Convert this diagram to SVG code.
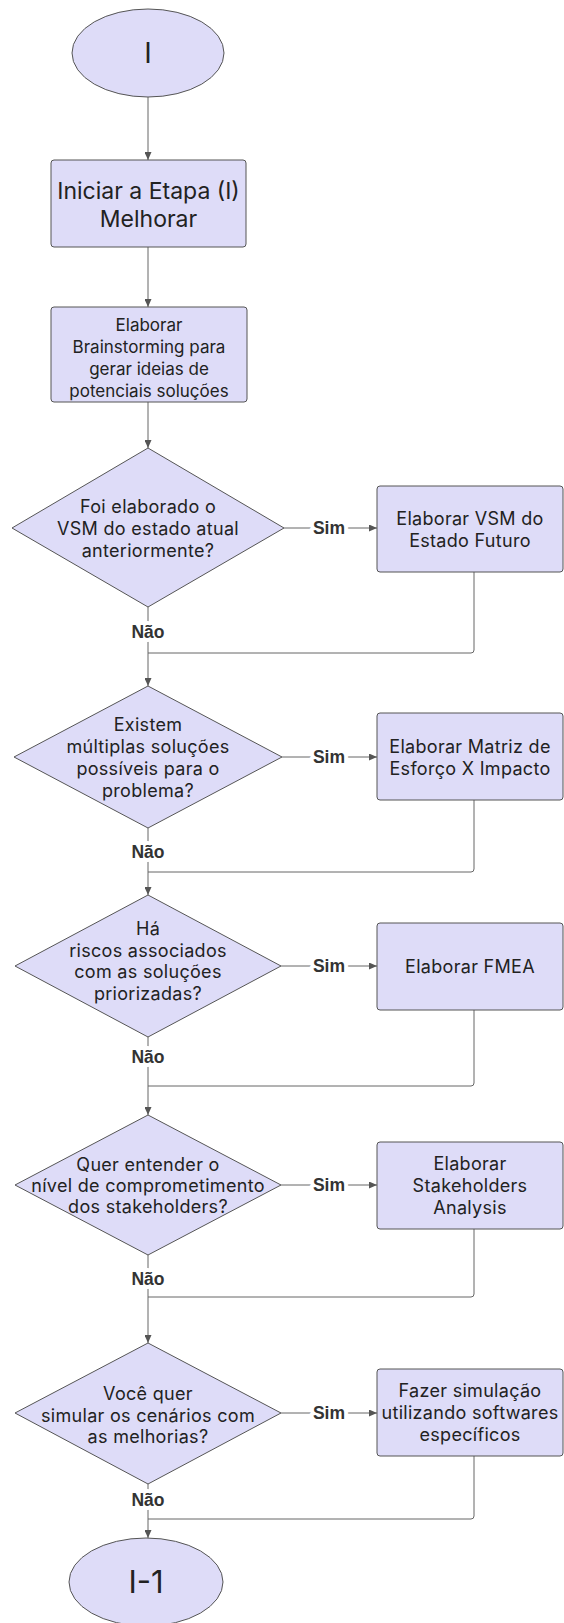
<svg xmlns="http://www.w3.org/2000/svg" width="564" height="1623" viewBox="0 0 564 1623">
  <defs>
    <style>
      .shape { fill: #dedcf8; stroke: #555; stroke-width: 1; }
      .txt { font-family: Inter, "Noto Sans", "DejaVu Sans", sans-serif; fill: #222; text-anchor: middle; }
      .t17 { font-size: 17px; }
      .t18 { font-size: 18px; letter-spacing: 0.3px; }
      .t23 { font-size: 23px; }
      .big { font-size: 28px; }
      .wire { fill: none; stroke: #666; stroke-width: 1; }
      .lbl { font-family: "Liberation Sans", Arial, sans-serif; font-weight: bold; font-size: 17.5px; fill: #333; text-anchor: middle; stroke: #fff; stroke-width: 8px; paint-order: stroke; stroke-linejoin: round; }
    </style>
    <marker id="arrow" markerUnits="userSpaceOnUse" markerWidth="8" markerHeight="7" refX="8" refY="3.5" orient="auto">
      <path d="M0,0 L8,3.5 L0,7 Z" fill="#555"/>
    </marker>
  </defs>

  <rect width="564" height="1623" fill="#fff"/>

  <!-- connectors -->
  <g id="connectors">
    <path class="wire" d="M148,97 V160" marker-end="url(#arrow)"/>
    <path class="wire" d="M148,247 V307" marker-end="url(#arrow)"/>
    <path class="wire" d="M148,402 V448" marker-end="url(#arrow)"/>

    <!-- decision 1 -->
    <path class="wire" d="M284,528 H377" marker-end="url(#arrow)"/>
    <path class="wire" d="M148,607 V686" marker-end="url(#arrow)"/>
    <path class="wire" d="M474,572 V650 Q474,653 471,653 H148"/>
    <text class="lbl" x="329" y="534">Sim</text>
    <text class="lbl" x="148" y="638">Não</text>

    <!-- decision 2 -->
    <path class="wire" d="M282,757 H377" marker-end="url(#arrow)"/>
    <path class="wire" d="M148,828 V895" marker-end="url(#arrow)"/>
    <path class="wire" d="M474,800 V869 Q474,872 471,872 H148"/>
    <text class="lbl" x="329" y="763">Sim</text>
    <text class="lbl" x="148" y="858">Não</text>

    <!-- decision 3 -->
    <path class="wire" d="M281,966 H377" marker-end="url(#arrow)"/>
    <path class="wire" d="M148,1037 V1115" marker-end="url(#arrow)"/>
    <path class="wire" d="M474,1010 V1083 Q474,1086 471,1086 H148"/>
    <text class="lbl" x="329" y="972">Sim</text>
    <text class="lbl" x="148" y="1063">Não</text>

    <!-- decision 4 -->
    <path class="wire" d="M281,1185 H377" marker-end="url(#arrow)"/>
    <path class="wire" d="M148,1255 V1343" marker-end="url(#arrow)"/>
    <path class="wire" d="M474,1229 V1294 Q474,1297 471,1297 H148"/>
    <text class="lbl" x="329" y="1191">Sim</text>
    <text class="lbl" x="148" y="1285">Não</text>

    <!-- decision 5 -->
    <path class="wire" d="M281,1413 H377" marker-end="url(#arrow)"/>
    <path class="wire" d="M148,1484 V1538" marker-end="url(#arrow)"/>
    <path class="wire" d="M474,1456 V1516 Q474,1519 471,1519 H148"/>
    <text class="lbl" x="329" y="1419">Sim</text>
    <text class="lbl" x="148" y="1506">Não</text>
  </g>

  <!-- start terminal -->
  <g id="start">
    <ellipse class="shape" cx="148" cy="53" rx="76" ry="44"/>
    <text class="txt big" x="148" y="63">I</text>
  </g>

  <g id="iniciar">
    <rect class="shape" x="51" y="160" width="195" height="87" rx="3"/>
    <text class="txt t23" x="148.5" y="199">Iniciar a Etapa (I)<tspan x="148.5" dy="28">Melhorar</tspan></text>
  </g>

  <g id="brainstorming">
    <rect class="shape" x="51" y="307" width="196" height="95" rx="3"/>
    <text class="txt t17" x="149" y="331">Elaborar<tspan x="149" dy="22">Brainstorming para</tspan><tspan x="149" dy="22">gerar ideias de</tspan><tspan x="149" dy="22">potenciais soluções</tspan></text>
  </g>

  <!-- decision nodes -->
  <g id="dec-vsm">
    <polygon class="shape" points="148,448 284,528 148,607 12,528"/>
    <text class="txt t18" x="148" y="513">Foi elaborado o<tspan x="148" dy="22">VSM do estado atual</tspan><tspan x="148" dy="22">anteriormente?</tspan></text>
  </g>

  <g id="dec-multiplas">
    <polygon class="shape" points="148,686 282,757 148,828 14,757"/>
    <text class="txt t18" x="148" y="731">Existem<tspan x="148" dy="22">múltiplas soluções</tspan><tspan x="148" dy="22">possíveis para o</tspan><tspan x="148" dy="22">problema?</tspan></text>
  </g>

  <g id="dec-riscos">
    <polygon class="shape" points="148,895 281,966 148,1037 15,966"/>
    <text class="txt t18" x="148" y="935">Há<tspan x="148" dy="21.5">riscos associados</tspan><tspan x="148" dy="21.5">com as soluções</tspan><tspan x="148" dy="21.5">priorizadas?</tspan></text>
  </g>

  <g id="dec-stakeholders">
    <polygon class="shape" points="148,1115 281,1185 148,1255 15,1185"/>
    <text class="txt t18" x="148" y="1171">Quer entender o<tspan x="148" dy="21">nível de comprometimento</tspan><tspan x="148" dy="21">dos stakeholders?</tspan></text>
  </g>

  <g id="dec-simular">
    <polygon class="shape" points="148,1343 281,1413 148,1484 15,1413"/>
    <text class="txt t18" x="148" y="1400">Você quer<tspan x="148" dy="21.5">simular os cenários com</tspan><tspan x="148" dy="21.5">as melhorias?</tspan></text>
  </g>

  <!-- action boxes -->
  <g id="vsm-futuro">
    <rect class="shape" x="377" y="486" width="186" height="86" rx="3"/>
    <text class="txt t18" x="470" y="525">Elaborar VSM do<tspan x="470" dy="22">Estado Futuro</tspan></text>
  </g>

  <g id="matriz">
    <rect class="shape" x="377" y="713" width="186" height="87" rx="3"/>
    <text class="txt t18" x="470" y="753">Elaborar Matriz de<tspan x="470" dy="22">Esforço X Impacto</tspan></text>
  </g>

  <g id="fmea">
    <rect class="shape" x="377" y="923" width="186" height="87" rx="3"/>
    <text class="txt t18" x="470" y="973">Elaborar FMEA</text>
  </g>

  <g id="stakeholders">
    <rect class="shape" x="377" y="1142" width="186" height="87" rx="3"/>
    <text class="txt t18" x="470" y="1170">Elaborar<tspan x="470" dy="22">Stakeholders</tspan><tspan x="470" dy="22">Analysis</tspan></text>
  </g>

  <g id="simulacao">
    <rect class="shape" x="377" y="1369" width="186" height="87" rx="3"/>
    <text class="txt t18" x="470" y="1397">Fazer simulação<tspan x="470" dy="22">utilizando softwares</tspan><tspan x="470" dy="22">específicos</tspan></text>
  </g>

  <!-- end terminal -->
  <g id="end">
    <ellipse class="shape" cx="146" cy="1582" rx="77" ry="44"/>
    <text class="txt" x="146" y="1593" style="font-size:31px">I-1</text>
  </g>
</svg>
